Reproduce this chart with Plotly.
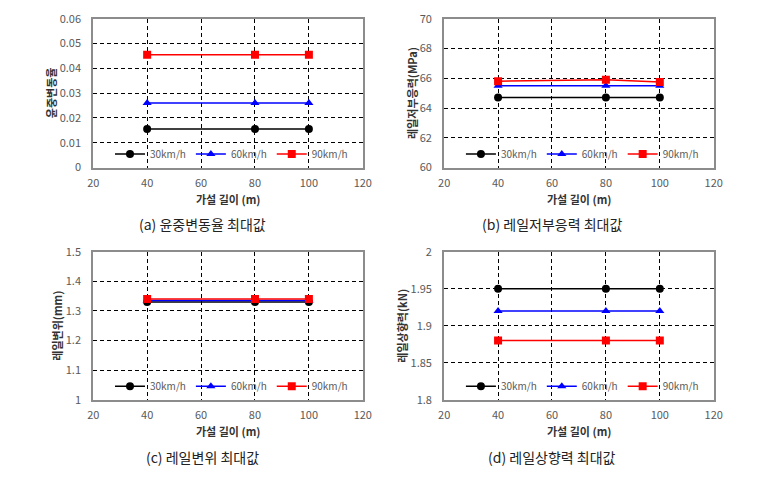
import plotly.graph_objects as go
from plotly.subplots import make_subplots

# ----------------------------------------------------------------------------------------------------------------------
# Data
# ----------------------------------------------------------------------------------------------------------------------
span_len = [40, 80, 100]
speeds = ["30km/h", "60km/h", "90km/h"]

wheel_load = [[0.0155, 0.0155, 0.0155], [0.026, 0.026, 0.026], [0.0455, 0.0455, 0.0455]]
rail_stress = [[64.7, 64.7, 64.7], [65.5, 65.5, 65.5], [65.8, 65.9, 65.75]]
rail_disp = [[1.33, 1.33, 1.33], [1.335, 1.335, 1.335], [1.34, 1.34, 1.34]]
uplift = [[1.95, 1.95, 1.95], [1.92, 1.92, 1.92], [1.88, 1.88, 1.88]]

x_ticks = [20, 40, 60, 80, 100, 120]
y_ticks = [
    [0, 0.01, 0.02, 0.03, 0.04, 0.05, 0.06],
    [60, 62, 64, 66, 68, 70],
    [1, 1.1, 1.2, 1.3, 1.4, 1.5],
    [1.8, 1.85, 1.9, 1.95, 2],
]
y_labels = [
    ["0", "0.01", "0.02", "0.03", "0.04", "0.05", "0.06"],
    ["60", "62", "64", "66", "68", "70"],
    ["1", "1.1", "1.2", "1.3", "1.4", "1.5"],
    ["1.8", "1.85", "1.9", "1.95", "2"],
]
y_titles = ["윤중변동율", "레일저부응력(MPa)", "레일변위(mm)", "레일상향력(kN)"]
captions = ["(a) 윤중변동율 최대값", "(b) 레일저부응력 최대값", "(c) 레일변위 최대값", "(d) 레일상향력 최대값"]
x_title = "가설 길이 (m)"

# ----------------------------------------------------------------------------------------------------------------------
# Styles
# ----------------------------------------------------------------------------------------------------------------------
W, H = 759, 485
FONT = "Noto Sans CJK KR"
colors = ["#000000", "#0000FF", "#FF0000"]
symbols = ["circle", "triangle-up", "square"]
sizes = [8, 8, 8]

# plot areas in pixels: (left, right, top, bottom)
boxes = [(89, 364, 10, 164), (447, 722, 10, 164), (89, 364, 251, 404), (447, 722, 251, 404)]

fig = make_subplots(rows=2, cols=2)

all_data = [wheel_load, rail_stress, rail_disp, uplift]
for k, data in enumerate(all_data):
    row, col = k // 2 + 1, k % 2 + 1
    leg = "legend" if k == 0 else "legend%d" % (k + 1)
    for i, name in enumerate(speeds):
        fig.add_trace(go.Scatter(x=span_len, y=data[i], name=name, mode="lines+markers",
                                 line=dict(color=colors[i], width=1.5),
                                 marker=dict(symbol=symbols[i], size=sizes[i], color=colors[i]),
                                 legend=leg),
                      row=row, col=col)

layout = dict(width=W, height=H, margin=dict(l=0, r=0, t=0, b=0),
              paper_bgcolor="white", plot_bgcolor="white",
              font=dict(family=FONT, color="#595959", size=11))

annotations = []
for k, (l, r, t, b) in enumerate(boxes):
    ax = "" if k == 0 else str(k + 1)
    dom_x = [l / W, r / W]
    dom_y = [1 - b / H, 1 - t / H]
    layout["xaxis" + ax] = dict(domain=dom_x, range=[20, 120], tickvals=x_ticks,
                                showgrid=True, gridcolor="#000000", griddash="4px,3px", gridwidth=1,
                                showline=True, linecolor="#8c8c8c", linewidth=2, mirror=True,
                                zeroline=False, ticks="", ticklabelstandoff=4,
                                tickfont=dict(size=11, color="#595959"))
    layout["yaxis" + ax] = dict(domain=dom_y, range=[y_ticks[k][0], y_ticks[k][-1]],
                                tickvals=y_ticks[k], ticktext=y_labels[k],
                                showgrid=True, gridcolor="#000000", griddash="4px,3px", gridwidth=1,
                                showline=True, linecolor="#8c8c8c", linewidth=2, mirror=True,
                                zeroline=False, ticks="", ticklabelstandoff=8,
                                tickfont=dict(size=11, color="#595959"))
    # legend inside the plot, bottom right
    leg = "legend" if k == 0 else "legend%d" % (k + 1)
    layout[leg] = dict(orientation="h", x=(r - 10) / W, xanchor="right", y=1 - (b - 14) / H, yanchor="middle",
                       bgcolor="rgba(255,255,255,0)", font=dict(size=10, color="#595959"),
                       itemwidth=30, tracegroupgap=0)
    # x axis title
    annotations.append(dict(text="<b>" + x_title + "</b>", x=(l + r) / 2 / W, y=1 - (b + 32) / H,
                            xref="paper", yref="paper", showarrow=False,
                            font=dict(size=11, color="#333333"), xanchor="center", yanchor="middle"))
    # y axis title
    yt_x = [46, 414, 52, 404][k]
    annotations.append(dict(text="<b>" + y_titles[k] + "</b>", x=yt_x / W, y=1 - (t + b) / 2 / H,
                            xref="paper", yref="paper", showarrow=False, textangle=-90,
                            font=dict(size=11, color="#333333"), xanchor="center", yanchor="middle"))
    # caption
    cap_x = [200, 557, 200, 557][k]
    cap_y = [222, 222, 463, 463][k]
    annotations.append(dict(text=captions[k], x=cap_x / W, y=1 - cap_y / H,
                            xref="paper", yref="paper", showarrow=False,
                            font=dict(size=14, color="#222222"), xanchor="center", yanchor="middle"))

layout["annotations"] = annotations
fig.update_layout(**layout)

fig.write_html("out.html", config={"displayModeBar": False},
               post_script="document.body.style.margin='0';")
